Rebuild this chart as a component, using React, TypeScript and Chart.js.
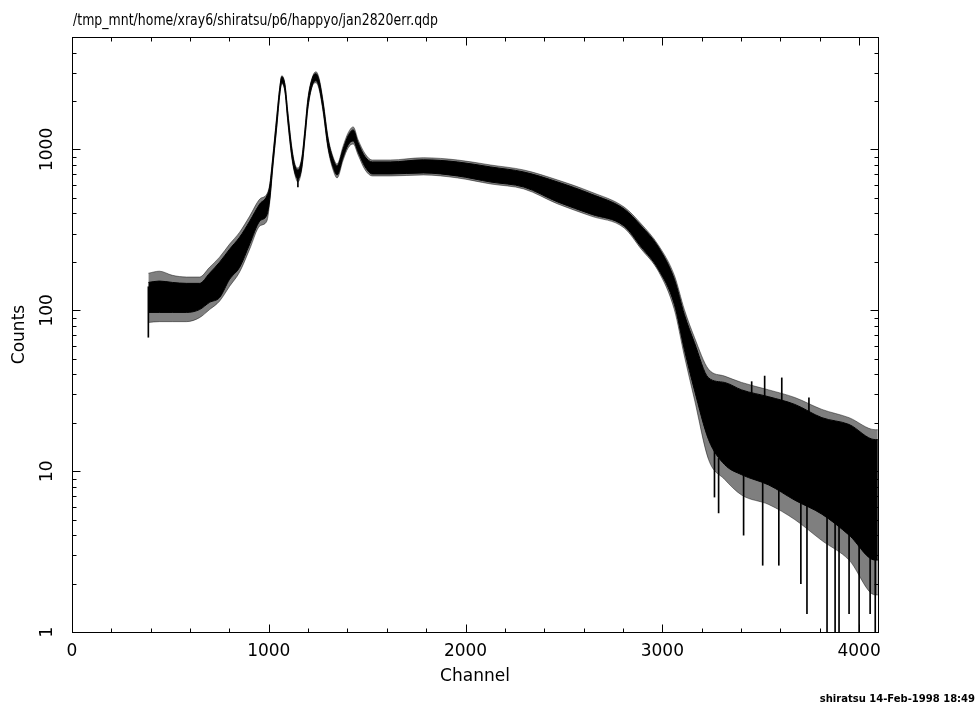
import React, { useEffect, useRef } from "react";
import { Chart, registerables } from "chart.js";

Chart.register(...registerables);

// ---- data ----
const channels = [
  388, 444, 510, 582, 648, 699, 750, 801, 852, 903,
  954, 990, 1005, 1020, 1041, 1056, 1066, 1082, 1097, 1117,
  1133, 1148, 1168, 1184, 1199, 1224, 1240, 1255, 1276, 1301,
  1327, 1347, 1378, 1403, 1429, 1454, 1490, 1526, 1617, 1786,
  1959, 2128, 2296, 2469, 2638, 2806, 2893, 2980, 3061, 3112,
  3163, 3235, 3316, 3403, 3541, 3673, 3811, 3949, 4082, 4095,
];
// dense (solid) part of the noisy spectrum
const coreHigh = [
  149, 152, 149, 147, 147, 170, 199, 240, 285, 358,
  458, 513, 592, 873, 1594, 2416, 2830, 2523, 1664, 1007,
  789, 745, 873, 1323, 2034, 2830, 2954, 2710, 1949, 1163,
  873, 789, 1007, 1214, 1323, 1098, 898, 836, 836, 862,
  836, 778, 724, 627, 528, 426, 334, 247, 156, 94,
  63, 38, 35.6, 32, 29, 26, 21.5, 19.5, 15.7, 15.7,
];
const coreLow = [
  97, 97, 97, 97, 101, 112, 120, 156, 185, 258,
  358, 391, 491, 778, 1421, 2217, 2597, 2314, 1505, 911,
  714, 655, 778, 1197, 1840, 2559, 2673, 2452, 1763, 1037,
  778, 694, 898, 1067, 1130, 965, 778, 704, 704, 714,
  684, 627, 584, 471, 396, 334, 247, 180, 109, 57,
  32, 15.7, 11, 9.5, 8.2, 6.6, 5.4, 4.0, 2.8, 2.8,
];
// sparse fringe of the noise
const outerHigh = [
  170, 175, 165, 161, 161, 185, 214, 258, 306, 385,
  491, 528, 610, 898, 1641, 2452, 2872, 2559, 1712, 1037,
  812, 767, 898, 1361, 2094, 2872, 3040, 2789, 2006, 1197,
  898, 812, 1051, 1267, 1381, 1146, 938, 860, 860, 888,
  860, 800, 745, 645, 544, 438, 344, 254, 165, 101,
  68, 43, 39, 35.6, 32, 28.7, 24.2, 21.5, 18.1, 18.1,
];
const outerLow = [
  84, 85, 85, 85, 90, 101, 114, 141, 173, 240,
  334, 358, 471, 756, 1381, 2185, 2559, 2281, 1463, 885,
  694, 627, 756, 1163, 1788, 2523, 2597, 2382, 1712, 1007,
  745, 665, 860, 1022, 1082, 924, 745, 684, 684, 694,
  665, 610, 568, 458, 385, 325, 240, 175, 101, 52,
  28, 11.8, 8.9, 7.1, 6.2, 5.0, 3.7, 2.8, 1.7, 1.7,
];
// isolated spikes
const spikeChannels = [388, 1148, 3265, 3286, 3413, 3454, 3510, 3520, 3592, 3607, 3704, 3735, 3745, 3837, 3878, 3898, 3949, 4000, 4056, 4082];
const spikeLow = [68, 584, 6.9, 5.5, 4.0, 20, 2.6, 20, 2.6, 18, 2.0, 1.3, 15, 1, 1, 1, 1.3, 1, 1.3, 1];
const spikeHigh = [140, 680, 14, 12, 10, 36, 9, 39, 8.5, 38, 7, 7, 28.6, 6, 5, 5, 4.5, 4, 3.5, 3];

// ---- axes / text ----
const xMajorTicks = [0, 1000, 2000, 3000, 4000];
const xMinorTicks = [200, 400, 600, 800, 1200, 1400, 1600, 1800, 2200, 2400, 2600, 2800, 3200, 3400, 3600, 3800];
const yMajorTicks = [1, 10, 100, 1000];
const yMinorTicks = [2, 3, 4, 5, 6, 7, 8, 9, 20, 30, 40, 50, 60, 70, 80, 90, 200, 300, 400, 500, 600, 700, 800, 900, 2000, 3000, 4000];
const xTickLabels = ["0", "1000", "2000", "3000", "4000"];
const yTickLabels = ["1", "10", "100", "1000"];
const xRange = [0, 4096];
const yRange = [1, 5000];
const titleText = "/tmp_mnt/home/xray6/shiratsu/p6/happyo/jan2820err.qdp";
const xTitle = "Channel";
const yTitle = "Counts";
const footerText = "shiratsu 14-Feb-1998 18:49";

const FONT = '"DejaVu Sans", "Liberation Sans", sans-serif';

const decorPlugin = {
  id: "qdpDecor",
  afterDraw(chart: any) {
    const { ctx, chartArea: a, scales } = chart;
    const xs = scales.x;
    const ys = scales.y;
    ctx.save();
    ctx.strokeStyle = "#000";
    ctx.fillStyle = "#000";
    ctx.lineWidth = 1;
    ctx.strokeRect(a.left + 0.5, a.top + 0.5, a.right - a.left, a.bottom - a.top);

    const majorLen = 8;
    const minorLen = 4;
    ctx.beginPath();
    const xTick = (v: number, len: number) => {
      const px = Math.round(xs.getPixelForValue(v)) + 0.5;
      ctx.moveTo(px, a.bottom + 0.5);
      ctx.lineTo(px, a.bottom + 0.5 - len);
      ctx.moveTo(px, a.top + 0.5);
      ctx.lineTo(px, a.top + 0.5 + len);
    };
    const yTick = (v: number, len: number) => {
      const py = Math.round(ys.getPixelForValue(v)) + 0.5;
      ctx.moveTo(a.left + 0.5, py);
      ctx.lineTo(a.left + 0.5 + len, py);
      ctx.moveTo(a.right + 0.5, py);
      ctx.lineTo(a.right + 0.5 - len, py);
    };
    xMajorTicks.forEach((v) => xTick(v, majorLen));
    xMinorTicks.forEach((v) => xTick(v, minorLen));
    yMajorTicks.forEach((v) => yTick(v, majorLen));
    yMinorTicks.forEach((v) => yTick(v, minorLen));
    ctx.stroke();

    ctx.font = `17px ${FONT}`;
    ctx.textBaseline = "alphabetic";
    ctx.textAlign = "center";
    xMajorTicks.forEach((v, i) => {
      ctx.fillText(xTickLabels[i], xs.getPixelForValue(v), a.bottom + 24);
    });
    yMajorTicks.forEach((v, i) => {
      ctx.save();
      ctx.translate(a.left - 20, ys.getPixelForValue(v));
      ctx.rotate(-Math.PI / 2);
      ctx.fillText(yTickLabels[i], 0, 0);
      ctx.restore();
    });
    ctx.fillText(xTitle, (a.left + a.right) / 2, a.bottom + 49);
    ctx.save();
    ctx.translate(a.left - 48, (a.top + a.bottom) / 2);
    ctx.rotate(-Math.PI / 2);
    ctx.fillText(yTitle, 0, 0);
    ctx.restore();

    // title, condensed horizontally like the plotter's stroke font
    ctx.font = `16px ${FONT}`;
    ctx.textAlign = "left";
    const natural = ctx.measureText(titleText).width;
    const titleWidth = 365;
    ctx.save();
    ctx.translate(a.left + 1, a.top - 12);
    ctx.scale(titleWidth / natural, 1);
    ctx.fillText(titleText, 0, 0);
    ctx.restore();

    ctx.font = `bold 10px ${FONT}`;
    ctx.textAlign = "right";
    ctx.fillText(footerText, chart.width - 5, chart.height - 7);
    ctx.restore();
  },
};

export default function App() {
  const canvasRef = useRef<HTMLCanvasElement | null>(null);

  useEffect(() => {
    if (!canvasRef.current) return;
    const pts = (arr: number[]) => channels.map((c, i) => ({ x: c, y: arr[i] }));
    const chart = new Chart(canvasRef.current, {
      type: "line",
      data: {
        datasets: [
          {
            label: "outerHigh",
            data: pts(outerHigh),
            borderColor: "rgba(0,0,0,0.45)",
            borderWidth: 1,
            pointRadius: 0,
            fill: false,
            order: 3,
            cubicInterpolationMode: "monotone",
          },
          {
            label: "outerLow",
            data: pts(outerLow),
            borderColor: "rgba(0,0,0,0.45)",
            borderWidth: 1,
            backgroundColor: "rgba(0,0,0,0.5)",
            pointRadius: 0,
            fill: "-1",
            order: 3,
            cubicInterpolationMode: "monotone",
          },
          {
            label: "coreHigh",
            data: pts(coreHigh),
            borderColor: "#000",
            borderWidth: 1,
            pointRadius: 0,
            fill: false,
            order: 2,
            cubicInterpolationMode: "monotone",
          },
          {
            label: "coreLow",
            data: pts(coreLow),
            borderColor: "#000",
            borderWidth: 1,
            backgroundColor: "#000",
            pointRadius: 0,
            fill: "-1",
            order: 2,
            cubicInterpolationMode: "monotone",
          },
          {
            type: "bar",
            label: "spikes",
            data: spikeChannels.map((c, i) => ({ x: c, y: [spikeLow[i], spikeHigh[i]] })) as any,
            backgroundColor: "#000",
            borderWidth: 0,
            barThickness: 1,
            grouped: false,
            order: 1,
          } as any,
        ],
      },
      options: {
        animation: false,
        responsive: true,
        maintainAspectRatio: false,
        events: [],
        layout: { padding: { left: 72, right: 102, top: 37, bottom: 77 } },
        plugins: {
          legend: { display: false },
          tooltip: { enabled: false },
          title: { display: false },
        },
        scales: {
          x: { type: "linear", min: xRange[0], max: xRange[1], display: false, offset: false },
          y: { type: "logarithmic", min: yRange[0], max: yRange[1], display: false },
        },
      } as any,
      plugins: [decorPlugin],
    });
    return () => chart.destroy();
  }, []);

  return (
    <div style={{ position: "fixed", left: 0, top: 0, width: 980, height: 709, background: "#fff" }}>
      <canvas ref={canvasRef} />
    </div>
  );
}
